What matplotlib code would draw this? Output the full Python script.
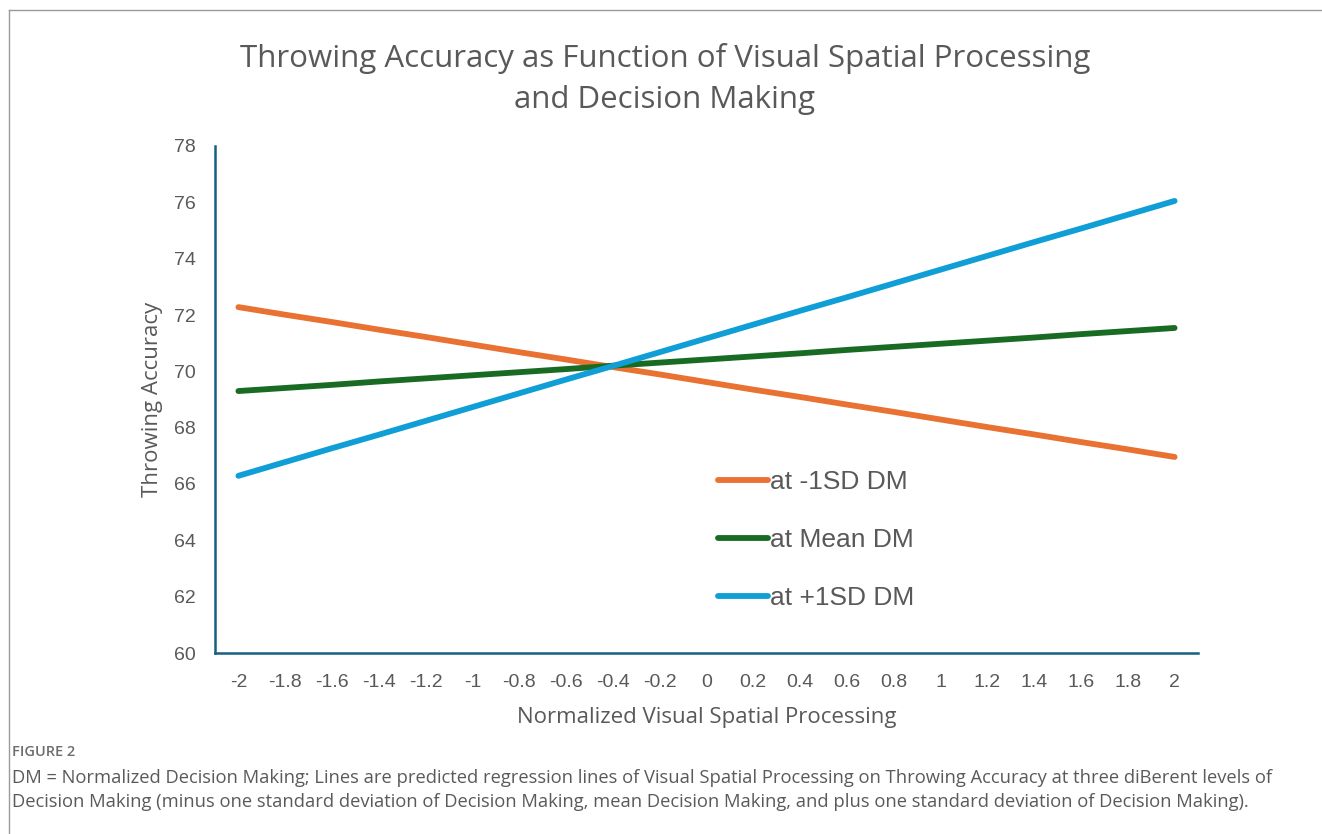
import numpy as np
import matplotlib.pyplot as plt
from matplotlib.lines import Line2D

# categories on the x axis (Excel line chart, categorical)
x_labels = ['-2', '-1.8', '-1.6', '-1.4', '-1.2', '-1', '-0.8', '-0.6', '-0.4', '-0.2',
            '0', '0.2', '0.4', '0.6', '0.8', '1', '1.2', '1.4', '1.6', '1.8', '2']

# predicted throwing accuracy
low_dm = [72.28, 72.01, 71.75, 71.48, 71.22, 70.95, 70.68, 70.42, 70.15, 69.89, 69.62,
          69.35, 69.09, 68.82, 68.56, 68.29, 68.02, 67.76, 67.49, 67.23, 66.96]
mean_dm = [69.30, 69.41, 69.52, 69.64, 69.75, 69.86, 69.97, 70.08, 70.20, 70.31, 70.42,
           70.53, 70.64, 70.76, 70.87, 70.98, 71.09, 71.20, 71.32, 71.43, 71.54]
high_dm = [66.29, 66.78, 67.27, 67.75, 68.24, 68.73, 69.22, 69.71, 70.19, 70.68, 71.17,
           71.66, 72.15, 72.63, 73.12, 73.61, 74.10, 74.59, 75.07, 75.56, 76.05]

series_names = ['at -1SD DM', 'at Mean DM', 'at +1SD DM']
y_ticks = [60, 62, 64, 66, 68, 70, 72, 74, 76, 78]

colors = ['#E97132', '#196B24', '#0F9ED5']
axis_col = '#156082'
text_col = '#595959'

W, H = 1322, 834
fig = plt.figure(figsize=(W/100, H/100), dpi=100)
ax = fig.add_axes([215/W, 1-653/H, (1198-215)/W, (653-146)/H])

xpos = np.arange(len(x_labels))
for ys, name, c in zip([low_dm, mean_dm, high_dm], series_names, colors):
    ax.plot(xpos, ys, color=c, lw=4.2, solid_capstyle='round', label=name)

ax.set_xlim(-0.5, len(x_labels)-0.5)
ax.set_ylim(60, 78)
ax.set_xticks(xpos)
ax.set_xticklabels(x_labels)
ax.set_yticks(y_ticks)
ax.tick_params(length=0, labelsize=14, labelcolor=text_col)
ax.tick_params(axis='y', pad=14)
ax.tick_params(axis='x', pad=15)
for lab in ax.get_xticklabels() + ax.get_yticklabels():
    lab.set_family('Liberation Sans')

for s in ['top', 'right']:
    ax.spines[s].set_visible(False)
for s in ['left', 'bottom']:
    ax.spines[s].set_color(axis_col)
    ax.spines[s].set_linewidth(1.8)

ax.set_xlabel('Normalized Visual Spatial Processing', fontsize=16, color=text_col,
              family='Open Sans', labelpad=12)
ax.set_ylabel('Throwing Accuracy', fontsize=16, color=text_col, family='Open Sans',
              labelpad=8)

leg = ax.legend(loc='upper left', bbox_to_anchor=(718/W, 1-470/H),
                bbox_transform=fig.transFigure, frameon=False,
                prop={'family': 'Liberation Sans', 'size': 19},
                handlelength=1.9, handletextpad=0.08, labelspacing=1.29,
                borderpad=0, borderaxespad=0)
for t in leg.get_texts():
    t.set_color(text_col)

fig.text(665/W, 1-58/H, 'Throwing Accuracy as Function of Visual Spatial Processing',
         ha='center', va='center', fontsize=22.5, color=text_col, family='Open Sans')
fig.text(665/W, 1-100/H, 'and Decision Making',
         ha='center', va='center', fontsize=22.5, color=text_col, family='Open Sans')

# caption below the chart
fig.text(12/W, 1-752/H, 'FIGURE 2', fontsize=10.5, color='#6d6d6d', family='Open Sans',
         weight='semibold', va='center')
fig.text(12/W, 1-778/H, 'DM = Normalized Decision Making; Lines are predicted regression lines of '
         'Visual Spatial Processing on Throwing Accuracy at three diBerent levels of',
         fontsize=13.25, color='#5a5a5a', family='Open Sans', va='center')
fig.text(12/W, 1-802/H, 'Decision Making (minus one standard deviation of Decision Making, mean '
         'Decision Making, and plus one standard deviation of Decision Making).',
         fontsize=13.25, color='#5a5a5a', family='Open Sans', va='center')

# outer frame (top and left edges only)
fig.add_artist(Line2D([9/W, 1], [1-10/H, 1-10/H], transform=fig.transFigure,
                      color='#9a9a9a', lw=1))
fig.add_artist(Line2D([9/W, 9/W], [0, 1-10/H], transform=fig.transFigure,
                      color='#9a9a9a', lw=1))

fig.savefig('out.png', dpi=100)
